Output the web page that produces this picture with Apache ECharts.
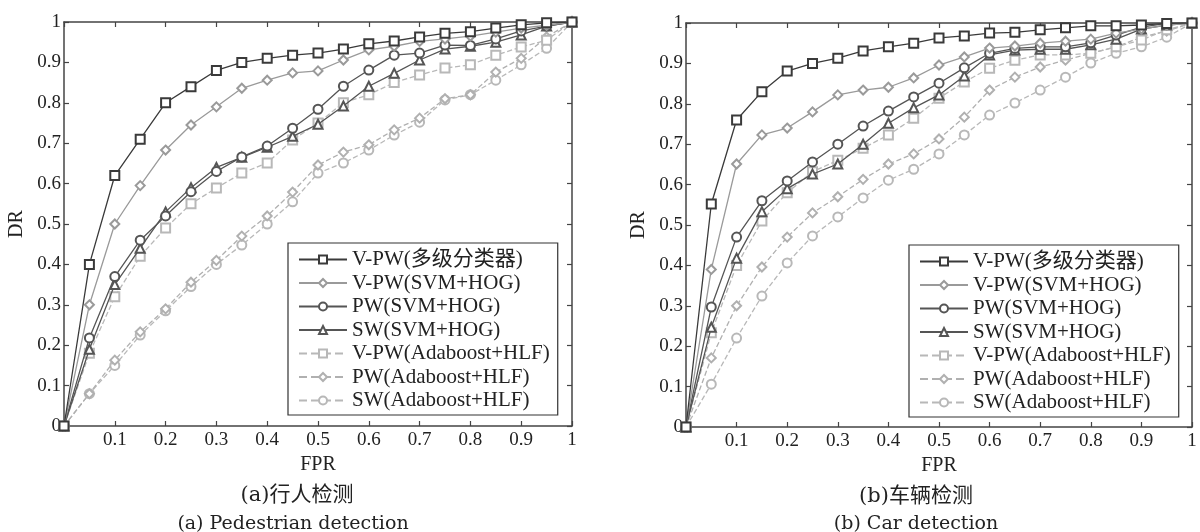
<!DOCTYPE html>
<html><head><meta charset="utf-8">
<script src="https://cdn.jsdelivr.net/npm/echarts@6/dist/echarts.min.js"></script>
<style>html,body{margin:0;padding:0;background:#fff}#c{width:1200px;height:532px}</style>
</head><body><div id="c"></div>
<script>
const fpr = [0,0.05,0.1,0.15,0.2,0.25,0.3,0.35,0.4,0.45,0.5,0.55,0.6,0.65,0.7,0.75,0.8,0.85,0.9,0.95,1];
const seriesNames = ['V-PW(多级分类器)','V-PW(SVM+HOG)','PW(SVM+HOG)','SW(SVM+HOG)','V-PW(Adaboost+HLF)','PW(Adaboost+HLF)','SW(Adaboost+HLF)'];
const xTicks = ['','0.1','0.2','0.3','0.4','0.5','0.6','0.7','0.8','0.9','1'];
const yTicks = ['0','0.1','0.2','0.3','0.4','0.5','0.6','0.7','0.8','0.9','1'];
const captionsCn = ['(a)行人检测','(b)车辆检测'];
const captionsEn = ['(a) Pedestrian detection','(b) Car detection'];

// (a) Pedestrian detection
const pedVPWMulti   = [0,0.40,0.62,0.71,0.80,0.84,0.88,0.90,0.91,0.918,0.923,0.933,0.946,0.953,0.963,0.972,0.976,0.985,0.993,0.998,1];
const pedVPWSvm     = [0,0.30,0.50,0.595,0.683,0.745,0.79,0.836,0.856,0.874,0.879,0.906,0.931,0.94,0.952,0.958,0.965,0.975,0.985,0.992,1];
const pedPWSvm      = [0,0.218,0.37,0.46,0.52,0.58,0.63,0.666,0.693,0.737,0.784,0.841,0.881,0.918,0.923,0.943,0.942,0.958,0.978,0.99,1];
const pedSWSvm      = [0,0.19,0.35,0.44,0.53,0.59,0.64,0.665,0.69,0.717,0.747,0.792,0.841,0.873,0.906,0.933,0.94,0.95,0.968,0.99,1];
const pedVPWAda     = [0,0.18,0.32,0.42,0.49,0.55,0.589,0.626,0.651,0.708,0.75,0.80,0.82,0.85,0.869,0.886,0.894,0.918,0.938,0.955,1];
const pedPWAda      = [0,0.08,0.163,0.233,0.29,0.356,0.41,0.47,0.52,0.579,0.646,0.678,0.696,0.733,0.762,0.81,0.82,0.876,0.91,0.963,1];
const pedSWAda      = [0,0.08,0.15,0.225,0.285,0.345,0.40,0.448,0.50,0.555,0.626,0.651,0.683,0.72,0.752,0.807,0.82,0.856,0.894,0.935,1];

// (b) Car detection
const carVPWMulti   = [0,0.552,0.76,0.83,0.881,0.90,0.913,0.931,0.941,0.95,0.963,0.968,0.975,0.977,0.983,0.988,0.993,0.993,0.995,0.999,1];
const carVPWSvm     = [0,0.39,0.651,0.723,0.74,0.78,0.822,0.834,0.841,0.864,0.896,0.916,0.938,0.943,0.95,0.955,0.96,0.975,0.985,0.995,1];
const carPWSvm      = [0,0.297,0.47,0.56,0.609,0.656,0.70,0.745,0.782,0.817,0.851,0.889,0.925,0.937,0.941,0.941,0.951,0.97,0.99,0.999,1];
const carSWSvm      = [0,0.247,0.418,0.533,0.59,0.626,0.651,0.70,0.752,0.79,0.822,0.869,0.921,0.933,0.935,0.935,0.946,0.96,0.985,0.995,1];
const carVPWAda     = [0,0.233,0.40,0.51,0.58,0.632,0.66,0.69,0.723,0.764,0.814,0.854,0.888,0.908,0.921,0.921,0.925,0.941,0.958,0.983,1];
const carPWAda      = [0,0.171,0.30,0.396,0.47,0.53,0.57,0.613,0.651,0.676,0.713,0.767,0.834,0.866,0.891,0.908,0.925,0.941,0.965,0.98,1];
const carSWAda      = [0,0.106,0.22,0.324,0.406,0.473,0.52,0.567,0.611,0.638,0.676,0.723,0.772,0.802,0.834,0.866,0.901,0.925,0.941,0.965,1];

const pedData = [pedVPWMulti,pedVPWSvm,pedPWSvm,pedSWSvm,pedVPWAda,pedPWAda,pedSWAda];
const carData = [carVPWMulti,carVPWSvm,carPWSvm,carSWSvm,carVPWAda,carPWAda,carSWAda];

const styles = [
  {symbol:'emptyRect', color:'#3a3a3a', type:'solid'},
  {symbol:'emptyDiamond', color:'#9a9a9a', type:'solid'},
  {symbol:'emptyCircle', color:'#555555', type:'solid'},
  {symbol:'emptyTriangle', color:'#555555', type:'solid'},
  {symbol:'emptyRect', color:'#b8b8b8', type:'dashed'},
  {symbol:'emptyDiamond', color:'#b0b0b0', type:'dashed'},
  {symbol:'emptyCircle', color:'#b8b8b8', type:'dashed'}
];
const FONT = '"Liberation Serif","Noto Sans CJK SC",serif';
const CAPFONT = '"DejaVu Serif","Noto Sans CJK SC",serif';
const grids = [
  {left:64, top:22, width:508, height:404},
  {left:686, top:23, width:506, height:404}
];
const xAxes = [], yAxes = [];
grids.forEach((g,i)=>{
  const common = {type:'value', min:0, max:1, interval:0.1, gridIndex:i,
    axisLine:{show:true, onZero:false, lineStyle:{color:'#444', width:1.5}},
    axisTick:{show:true, inside:true, length:5, lineStyle:{color:'#444', width:1.2}},
    splitLine:{show:false}};
  xAxes.push(Object.assign({}, common, {position:'bottom',
    name:'FPR', nameLocation:'middle', nameGap:25, nameTextStyle:{fontFamily:FONT, fontSize:20, color:'#222'},
    axisLabel:{fontFamily:FONT, fontSize:19, color:'#222', margin:5, formatter:(v)=>xTicks[Math.round(v*10)]}}));
  xAxes.push(Object.assign({}, common, {position:'top', axisLabel:{show:false}}));
  yAxes.push(Object.assign({}, common, {position:'left',
    name:'DR', nameLocation:'middle', nameGap:37, nameRotate:90, nameTextStyle:{fontFamily:FONT, fontSize:20, color:'#222'},
    axisLabel:{fontFamily:FONT, fontSize:19, color:'#222', margin:3, formatter:(v)=>yTicks[Math.round(v*10)]}}));
  yAxes.push(Object.assign({}, common, {position:'right', axisLabel:{show:false}}));
});
const series = [];
[pedData, carData].forEach((set, gi)=>{
  set.forEach((vals, si)=>{
    const st = styles[si];
    series.push({
      name: seriesNames[si], type:'line', xAxisIndex: gi*2, yAxisIndex: gi*2,
      data: fpr.map((x,k)=>[x, vals[k]]),
      symbol: st.symbol, symbolSize: 9, showAllSymbol:true,
      lineStyle:{color:st.color, width:1.3, type:st.type},
      itemStyle:{color:st.color, borderWidth:1.3},
      z: 10 - si, animation:false
    });
  });
});
const legendBase = {orient:'vertical', data:seriesNames, borderColor:'#333', borderWidth:1.2,
  padding:[6,8,4,10], itemWidth:48, itemHeight:10, itemGap:2.5, selectedMode:false,
  textStyle:{fontFamily:FONT, fontSize:21, color:'#222'}, backgroundColor:'#fff'};
const capCn = {fontFamily:CAPFONT, fontSize:21, fontWeight:'normal', color:'#222'};
const capEn = {fontFamily:CAPFONT, fontSize:19, fontWeight:'normal', color:'#222'};
const option = {
  animation:false,
  backgroundColor:'#fff',
  grid: grids,
  xAxis: xAxes, yAxis: yAxes,
  legend: [Object.assign({left:288, top:243}, legendBase), Object.assign({left:909, top:245}, legendBase)],
  title: [
    {text:captionsCn[0], left:292, top:480, textAlign:'center', textStyle:capCn},
    {text:captionsEn[0], left:288, top:510, textAlign:'center', textStyle:capEn},
    {text:captionsCn[1], left:911, top:481, textAlign:'center', textStyle:capCn},
    {text:captionsEn[1], left:911, top:510, textAlign:'center', textStyle:capEn}
  ],
  series: series
};
const chart = echarts.init(document.getElementById('c'), null, {renderer:'canvas'});
chart.setOption(option);
</script></body></html>
